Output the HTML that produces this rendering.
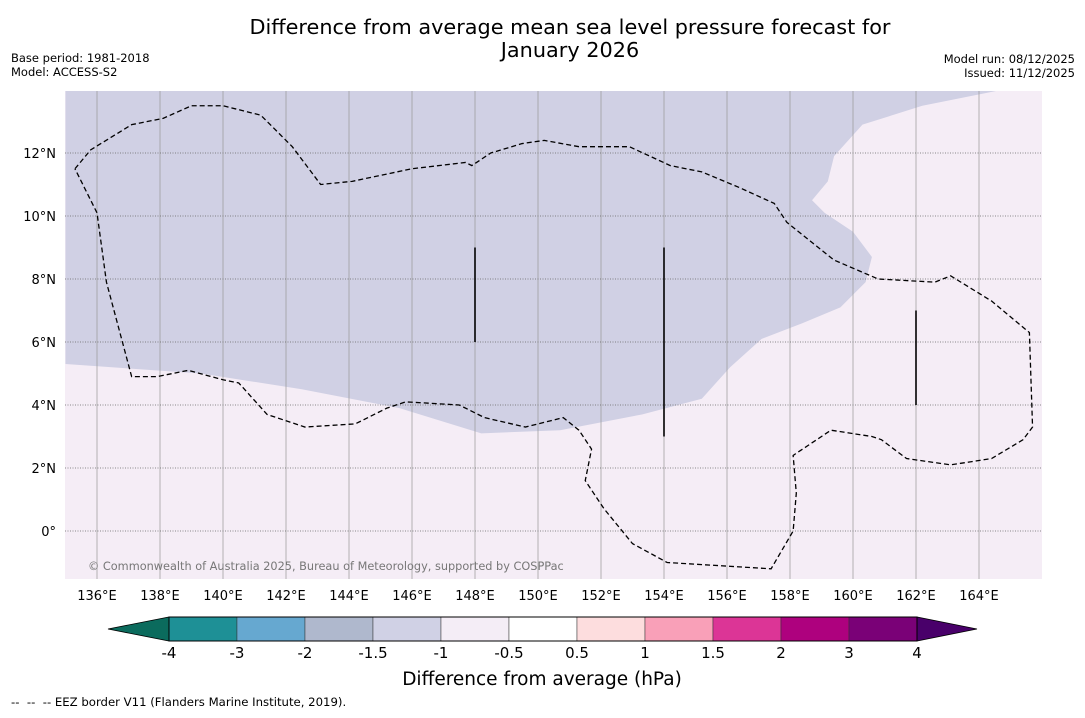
<!DOCTYPE html>
<html><head><meta charset="utf-8">
<style>
body{margin:0;background:#fff;font-family:"Liberation Sans","DejaVu Sans",sans-serif;}
svg text{font-family:"DejaVu Sans","Liberation Sans",sans-serif;}
</style></head>
<body>
<svg id="c" width="1085" height="713" xmlns="http://www.w3.org/2000/svg">
<text x="570" y="34" text-anchor="middle" font-size="20.8">Difference from average mean sea level pressure forecast for</text>
<text x="570" y="57" text-anchor="middle" font-size="20.8">January 2026</text>
<text x="11" y="62" font-size="11.5">Base period: 1981-2018</text>
<text x="11" y="76" font-size="11.5">Model: ACCESS-S2</text>
<text x="1075" y="63" font-size="11.5" text-anchor="end">Model run: 08/12/2025</text>
<text x="1075" y="77" font-size="11.5" text-anchor="end">Issued: 11/12/2025</text>
<g id="map"></g>
<g id="cb"></g>
<text x="542" y="685" text-anchor="middle" font-size="18.5">Difference from average (hPa)</text>
<text x="11" y="706" font-size="11.7" xml:space="preserve">--  --  -- EEZ border V11 (Flanders Marine Institute, 2019).</text>
</svg>
<script>
const lonTicks=[136,138,140,142,144,146,148,150,152,154,156,158,160,162,164];
const latTicks=[0,2,4,6,8,10,12];
const shadeLon=[135,139.3,142.5,145.6,148.2,150.7,153.3,155.2,156.1,157.1,158.4,159.6,160.4,160.6,160,159.1,158.7,159.2,159.4,160.3,162.2,164.7,135];
const shadeLat=[5.3,5,4.5,3.9,3.1,3.2,3.7,4.2,5.2,6.1,6.6,7.1,7.9,8.7,9.5,10.1,10.5,11.1,11.9,12.9,13.5,14,14];
const eezLon=[135.3,135.8,137.1,138.1,139,140,141.2,142.2,143.1,144.1,146,147.7,147.9,148.5,149.5,150.2,151.3,152.9,154.2,155.2,156.4,157.5,157.9,159.4,160.8,162.6,163.1,164.4,165.6,165.7,165.4,164.4,163.1,161.7,160.9,160.6,159.3,158.4,158.1,158.2,158.1,157.4,154.1,153,152.1,151.5,151.7,151.3,150.8,149.6,148.3,147.5,145.8,145.2,144.2,142.6,141.4,140.5,140,138.9,137.9,137.1,136.3,136,135.3];
const eezLat=[11.5,12.1,12.9,13.1,13.5,13.5,13.2,12.2,11,11.1,11.5,11.7,11.6,12,12.3,12.4,12.2,12.2,11.6,11.4,10.9,10.4,9.8,8.6,8.0,7.9,8.1,7.3,6.3,3.3,2.9,2.3,2.1,2.3,2.9,3.0,3.2,2.6,2.4,1.2,0,-1.2,-1.0,-0.4,0.7,1.6,2.6,3.2,3.6,3.3,3.6,4.0,4.1,3.9,3.4,3.3,3.7,4.7,4.8,5.1,4.9,4.9,7.9,10.1,11.5];
const stickLon=[148,154,162];const stickLat0=[6,3,4];const stickLat1=[9,9,7];
const cbLevels=["-4","-3","-2","-1.5","-1","-0.5","0.5","1","1.5","2","3","4"];
const cbColors=["#1e9096","#66a8d0","#afb8cd","#d0d1e5","#f4edf6","#ffffff","#fdddde","#f9a0b8","#dc3596","#ae017e","#7a0177"];
const NS="http://www.w3.org/2000/svg";
const X0=65,X1=1042,Y0=91,Y1=579;
const x=l=>97+(l-136)*31.5, y=a=>531-a*31.5;
function mk(t,at,p){const e=document.createElementNS(NS,t);for(const k in at)e.setAttribute(k,at[k]);p.appendChild(e);return e;}
const m=document.getElementById('map');
const cp=mk('clipPath',{id:'cl'},m);mk('rect',{x:X0,y:Y0,width:X1-X0,height:Y1-Y0},cp);
const bg=mk('rect',{x:X0,y:Y0,width:X1-X0,height:Y1-Y0,fill:'#f5edf6'},m);

const g=mk('g',{'clip-path':'url(#cl)'},m);
const sh=mk('polygon',{points:shadeLon.map((v,i)=>x(v)+','+y(shadeLat[i])).join(' '),fill:'#d0d0e4'},g);

lonTicks.forEach(l=>{const e=mk('line',{x1:x(l),x2:x(l),y1:Y0,y2:Y1,stroke:'#999',"stroke-width":0.9,opacity:0.8},g);
});
latTicks.forEach(a=>{const e=mk('line',{x1:X0,x2:X1,y1:y(a),y2:y(a),stroke:'#666',"stroke-width":0.8,"stroke-dasharray":'1,1.5'},g);
});
const ez=mk('polyline',{points:eezLon.map((v,i)=>x(v)+','+y(eezLat[i])).join(' '),fill:'none',stroke:'#000',"stroke-width":1.3,"stroke-dasharray":'5,3'},g);

stickLon.forEach((l,i)=>{const e=mk('line',{x1:x(l),x2:x(l),y1:y(stickLat1[i]),y2:y(stickLat0[i]),stroke:'#000',"stroke-width":1.6},g);
});
const cr=mk('text',{x:88,y:570,"font-size":11.3,fill:'#777'},g);cr.textContent='© Commonwealth of Australia 2025, Bureau of Meteorology, supported by COSPPac';

lonTicks.forEach(l=>{const e=mk('text',{x:x(l),y:600,"font-size":13,"text-anchor":'middle'},m);e.textContent=l+'°E';
});
latTicks.forEach(a=>{const e=mk('text',{x:56,y:y(a)+5,"font-size":13,"text-anchor":'end'},m);e.textContent=a===0?'0°':a+'°N';
});
const cb=document.getElementById('cb');const cx0=169,cw=68,cy=617,ch=24;
const lt=mk('polygon',{points:`${cx0},${cy} ${cx0},${cy+ch} 108,${cy+ch/2}`,fill:'#0b6b5d',stroke:'#000',"stroke-width":0.8},cb);

cbColors.forEach((c,i)=>{const e=mk('rect',{x:cx0+i*cw,y:cy,width:cw,height:ch,fill:c,stroke:'#333',"stroke-width":0.5},cb);
});
const xe=cx0+cbColors.length*cw;
const rt=mk('polygon',{points:`${xe},${cy} ${xe},${cy+ch} 977,${cy+ch/2}`,fill:'#49006a',stroke:'#000',"stroke-width":0.8},cb);

mk('rect',{x:cx0,y:cy,width:xe-cx0,height:ch,fill:'none',stroke:'#000',"stroke-width":1},cb);
cbLevels.forEach((s,i)=>{const e=mk('text',{x:cx0+i*cw,y:658,"font-size":15,"text-anchor":'middle'},cb);e.textContent=s;
});
</script>
</body></html>
